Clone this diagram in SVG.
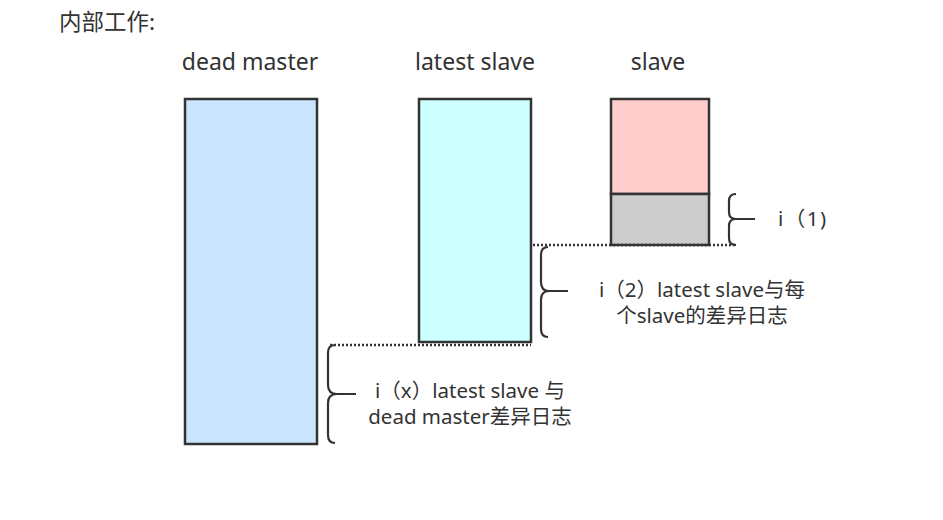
<svg xmlns="http://www.w3.org/2000/svg" width="943" height="520" viewBox="0 0 943 520">
<style>
text{font-family:"Noto Sans","Noto Sans CJK SC",sans-serif;fill:#333}
.t{font-size:23px;text-anchor:middle}
.l{font-size:20.5px}
.box{stroke:#333;stroke-width:2.5}
.brace{fill:none;stroke:#333;stroke-width:2.2}
.dot{stroke:#333;stroke-width:2.5;stroke-dasharray:2 2;fill:none}
</style>
<rect width="943" height="520" fill="#fff"/>
<text x="59" y="30" style="font-size:22.5px">内部工作:</text>
<g id="dead-master">
<text class="t" x="250" y="70">dead master</text>
<rect class="box" x="185" y="99" width="132" height="345" fill="#cce5ff"/>
</g>
<g id="latest-slave">
<text class="t" x="475" y="70">latest slave</text>
<rect class="box" x="419" y="99" width="112" height="243" fill="#ccffff"/>
</g>
<g id="slave">
<text class="t" x="658" y="70">slave</text>
<rect class="box" x="611" y="99" width="98" height="95" fill="#ffcccc"/>
<rect class="box" x="611" y="194" width="98" height="51" fill="#cccccc"/>
</g>
<g id="connectors">
<path class="dot" d="M533 245H736"/>
<path class="dot" d="M330 345H531"/>
</g>
<g id="brace-1">
<path class="brace" d="M736 194Q729 194 729 201L729 212Q729 219 736 219L755 219M736 219Q729 219 729 226L729 238Q729 245 736 245"/>
<text class="l" x="778" y="226" letter-spacing="1.5">i（1)</text>
</g>
<g id="brace-2">
<path class="brace" d="M548 247Q541 247 541 255L541 282Q541 291 549 291L568 291M549 291Q541 291 541 300L541 329Q541 337 548 337"/>
<text class="l" x="702" y="297" text-anchor="middle">i（2）latest slave与每</text>
<text class="l" x="702" y="323" text-anchor="middle">个slave的差异日志</text>
</g>
<g id="brace-x">
<path class="brace" d="M335 345Q328 345 328 353L328 385Q328 394 337 394L356 394M337 394Q328 394 328 403L328 435Q328 443 335 443"/>
<text class="l" x="470" y="398" text-anchor="middle">i（x）latest slave 与</text>
<text class="l" x="470" y="424" text-anchor="middle">dead master差异日志</text>
</g>
</svg>
